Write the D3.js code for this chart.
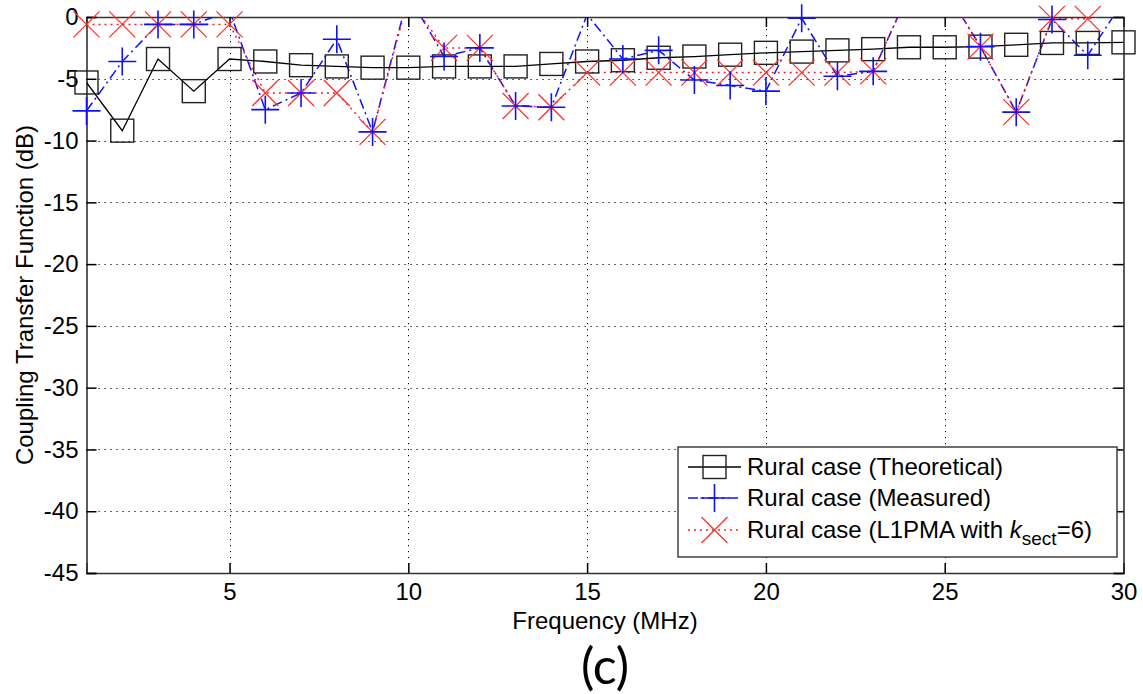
<!DOCTYPE html>
<html>
<head>
<meta charset="utf-8">
<script src="https://cdn.jsdelivr.net/npm/d3@7"></script>
<style>
  body { margin: 0; background: #fff; }
  svg { display: block; font-family: "Liberation Sans", Arial, sans-serif; }
</style>
</head>
<body>
<div id="chart"></div>
<script>
// ---------------- data ----------------
const freq = d3.range(1, 31);
const theoretical = [-5.3, -9.2, -3.4, -6.0, -3.4, -3.6, -3.9, -4.0, -4.1, -4.1,
                     -4.0, -4.0, -4.0, -3.8, -3.6, -3.5, -3.3, -3.2, -3.05, -2.9,
                     -2.8, -2.7, -2.6, -2.45, -2.45, -2.4, -2.25, -2.1, -2.1, -2.05];
const measured = [-7.6, -3.6, -0.6, -0.6, 0.5, -7.5, -6.15, -1.8, -9.3, 1.8,
                  -3.2, -2.5, -7.2, -7.3, 0.2, -3.4, -2.7, -5.1, -5.55, -6.0,
                  -0.1, -4.8, -4.4, 2.0, 2.3, -2.4, -7.7, -0.2, -3.1, 1.3];
const l1pma = [-0.6, -0.6, -0.6, -0.6, -0.6, -6.15, -6.15, -6.15, -9.3, 1.5,
               -2.5, -2.5, -7.2, -7.3, -4.5, -4.5, -4.5, -4.5, -4.5, -4.5,
               -4.5, -4.5, -4.4, 2.0, 2.3, -2.4, -7.7, -0.15, -0.15, 0.5];
const xTicks = [5, 10, 15, 20, 25, 30];
const yTicks = [0, -5, -10, -15, -20, -25, -30, -35, -40, -45];

// ---------------- setup ----------------
const W = 1143, H = 694;
const plot = { left: 86.5, right: 1123.5, top: 17, bottom: 573 };
const fs = 24;

const x = d3.scaleLinear().domain([1, 30]).range([plot.left, plot.right]);
const y = d3.scaleLinear().domain([-45, 0]).range([plot.bottom, plot.top]);

const svg = d3.select("#chart").append("svg")
    .attr("width", W).attr("height", H);

svg.append("defs").append("clipPath").attr("id", "clip")
  .append("rect")
    .attr("x", plot.left).attr("y", plot.top)
    .attr("width", plot.right - plot.left).attr("height", plot.bottom - plot.top);

// grid (dotted)
const grid = svg.append("g").attr("stroke", "#000").attr("stroke-width", 1)
    .attr("stroke-dasharray", "1.2,4.8");
grid.selectAll(".gx").data(xTicks.filter(d => d < 30)).enter().append("line")
    .attr("x1", d => Math.round(x(d)) + 0.5).attr("x2", d => Math.round(x(d)) + 0.5)
    .attr("y1", plot.top).attr("y2", plot.bottom);
grid.selectAll(".gy").data(yTicks.filter(d => d > -45 && d < 0)).enter().append("line")
    .attr("y1", d => Math.round(y(d)) + 0.5).attr("y2", d => Math.round(y(d)) + 0.5)
    .attr("x1", plot.left).attr("x2", plot.right);

// axes: matlab style box with inward ticks on all sides
const tickLen = 10;
const hyphen = d => String(d).replace("\u2212", "-");
const bottomAxis = svg.append("g").attr("transform", `translate(0,${plot.bottom})`)
    .call(d3.axisBottom(x).tickValues(xTicks).tickSize(-tickLen).tickPadding(10));
const topAxis = svg.append("g").attr("transform", `translate(0,${plot.top})`)
    .call(d3.axisTop(x).tickValues(xTicks).tickSize(-tickLen).tickFormat(""));
const leftAxis = svg.append("g").attr("transform", `translate(${plot.left},0)`)
    .call(d3.axisLeft(y).tickValues(yTicks).tickSize(-tickLen).tickPadding(8).tickFormat(hyphen));
const rightAxis = svg.append("g").attr("transform", `translate(${plot.right},0)`)
    .call(d3.axisRight(y).tickValues(yTicks).tickSize(-tickLen).tickFormat(""));

[bottomAxis, topAxis, leftAxis, rightAxis].forEach(a => {
    a.select(".domain").attr("stroke", "#333").attr("stroke-width", 1.6);
    a.selectAll(".tick line").attr("stroke", "#000").attr("stroke-width", 1.5);
    a.selectAll("text").attr("font-size", fs).attr("fill", "#000")
        .attr("font-family", "Liberation Sans, Arial, sans-serif");
});

// ---------------- series ----------------
const line = d3.line().x((d, i) => x(freq[i])).y(d => y(d));
const inView = v => v <= 0 && v >= -45;

const lines = svg.append("g").attr("clip-path", "url(#clip)").attr("fill", "none");
lines.append("path").datum(theoretical).attr("d", line)
    .attr("stroke", "#000").attr("stroke-width", 1.3);
lines.append("path").datum(measured).attr("d", line)
    .attr("stroke", "#1010ff").attr("stroke-width", 1.5)
    .attr("stroke-dasharray", "10,4,2,4");
lines.append("path").datum(l1pma).attr("d", line)
    .attr("stroke", "#ff2020").attr("stroke-width", 1.5)
    .attr("stroke-dasharray", "2,4");

const sq = 11.5, pl = 14, cr = 13;
function squareMark(g, cx, cy) {
    g.append("rect").attr("x", cx - sq).attr("y", cy - sq)
        .attr("width", 2 * sq).attr("height", 2 * sq)
        .attr("fill", "none").attr("stroke", "#222").attr("stroke-width", 1.4);
}
function plusMark(g, cx, cy) {
    g.append("path").attr("d", `M${cx - pl},${cy}H${cx + pl}M${cx},${cy - pl}V${cy + pl}`)
        .attr("stroke", "#1010ff").attr("stroke-width", 1.6);
}
function crossMark(g, cx, cy) {
    g.append("path").attr("d", `M${cx - cr},${cy - cr}L${cx + cr},${cy + cr}M${cx - cr},${cy + cr}L${cx + cr},${cy - cr}`)
        .attr("stroke", "#ff3030").attr("stroke-width", 1.3);
}

const marks = svg.append("g");
theoretical.forEach((v, i) => { if (inView(v)) squareMark(marks, x(freq[i]), y(v)); });
l1pma.forEach((v, i) => { if (inView(v)) crossMark(marks, x(freq[i]), y(v)); });
measured.forEach((v, i) => { if (inView(v)) plusMark(marks, x(freq[i]), y(v)); });

// ---------------- labels ----------------
svg.append("text")
    .attr("x", (plot.left + plot.right) / 2).attr("y", 629)
    .attr("text-anchor", "middle").attr("font-size", fs)
    .text("Frequency (MHz)");

svg.append("text")
    .attr("transform", `translate(33,${(plot.top + plot.bottom) / 2}) rotate(-90)`)
    .attr("text-anchor", "middle").attr("font-size", 24)
    .text("Coupling Transfer Function (dB)");

svg.append("text")
    .attr("x", (plot.left + plot.right) / 2).attr("y", 684)
    .attr("text-anchor", "middle").attr("font-size", 50)
    .attr("font-family", "Lato, 'Open Sans', sans-serif")
    .text("(c)");

// ---------------- legend ----------------
const legend = svg.append("g");
legend.append("rect")
    .attr("x", 678).attr("y", 447).attr("width", 439).attr("height", 110)
    .attr("fill", "#fff").attr("stroke", "#333").attr("stroke-width", 1.4);

const rows = [
    { y: 467, stroke: "#000", dash: null, mark: squareMark, label: "Rural case (Theoretical)" },
    { y: 498, stroke: "#1010ff", dash: "10,4,2,4", mark: plusMark, label: "Rural case (Measured)" },
    { y: 530, stroke: "#ff2020", dash: "2,4", mark: crossMark, label: null }
];
rows.forEach(r => {
    legend.append("line").attr("x1", 688).attr("x2", 741).attr("y1", r.y).attr("y2", r.y)
        .attr("stroke", r.stroke).attr("stroke-width", 1.4)
        .attr("stroke-dasharray", r.dash);
    r.mark(legend, 714.5, r.y);
    const t = legend.append("text").attr("x", 747).attr("y", r.y + 8).attr("font-size", fs);
    if (r.label) {
        t.text(r.label);
    } else {
        t.append("tspan").text("Rural case (L1PMA with ");
        t.append("tspan").attr("font-style", "italic").text("k");
        t.append("tspan").attr("font-size", 19).attr("dy", 7).text("sect");
        t.append("tspan").attr("dy", -7).text("=6)");
    }
});
</script>
</body>
</html>
